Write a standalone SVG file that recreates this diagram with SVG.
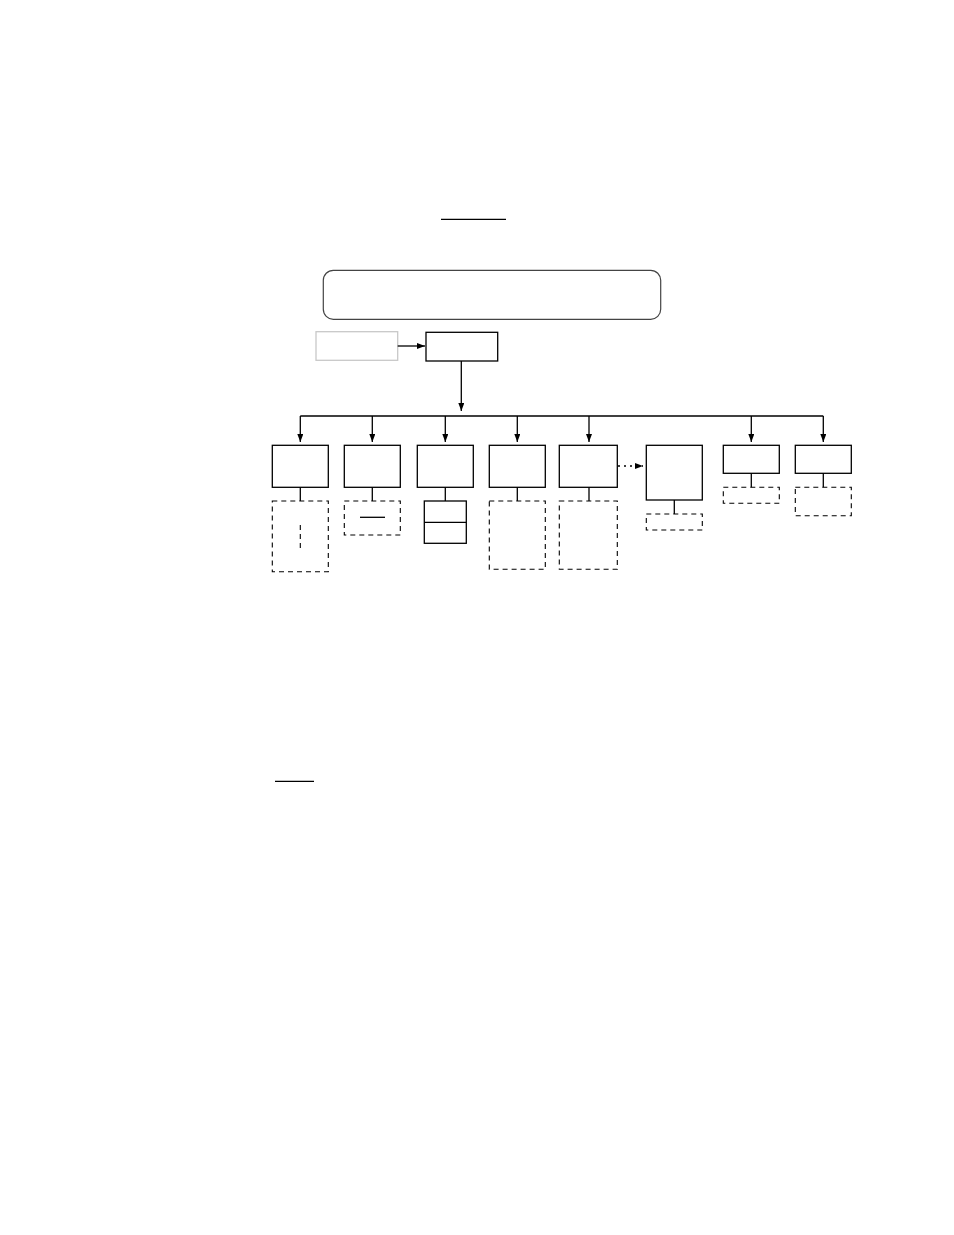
<svg xmlns="http://www.w3.org/2000/svg" width="954" height="1235" viewBox="0 0 954 1235">
<style>
.b{fill:none;stroke:#000;stroke-width:1.3}
.d{fill:none;stroke:#000;stroke-width:1.1;stroke-dasharray:5,4}
.c{fill:none;stroke:#000;stroke-width:1.3}
</style>
<defs>
<marker id="ah" markerWidth="8" markerHeight="6" refX="8" refY="3" orient="auto" markerUnits="userSpaceOnUse">
<path d="M0,0 L8,3 L0,6 Z" fill="#000"/>
</marker>
</defs>
<rect width="954" height="1235" fill="#fff"/>
<line x1="441" y1="219.3" x2="506" y2="219.3" class="c"/>
<line x1="275" y1="781.3" x2="314" y2="781.3" class="c"/>
<g id="banner"><rect x="323.3" y="270.3" width="337.4" height="49" rx="10" fill="none" stroke="#444" stroke-width="1.2"/></g>
<g id="source"><rect x="316" y="331.7" width="81.7" height="28.6" fill="none" stroke="#c8c8c8" stroke-width="1.3"/></g>
<g id="root"><rect x="426" y="332.3" width="71.7" height="28.7" class="b"/></g>
<g id="n1"><rect x="272.3" y="445.3" width="56" height="42" class="b"/>
<rect x="272.3" y="501" width="56" height="70.7" class="d"/>
<line x1="300.3" y1="525" x2="300.3" y2="550" class="d"/></g>
<g id="n2"><rect x="344.3" y="445.3" width="56" height="42" class="b"/>
<rect x="344.3" y="501" width="56" height="34" class="d"/>
<line x1="360" y1="517.3" x2="385" y2="517.3" class="c"/></g>
<g id="n3"><rect x="417.3" y="445.3" width="56" height="42" class="b"/>
<rect x="424.3" y="501" width="42" height="42.3" class="b"/>
<line x1="424.3" y1="522.3" x2="466.3" y2="522.3" class="c"/></g>
<g id="n4"><rect x="489.3" y="445.3" width="56" height="42" class="b"/>
<rect x="489.3" y="501" width="56" height="68.3" class="d"/></g>
<g id="n5"><rect x="559.3" y="445.3" width="58" height="42" class="b"/>
<rect x="559.3" y="501" width="58" height="68.3" class="d"/></g>
<g id="n6"><rect x="646.3" y="445.3" width="56" height="54.7" class="b"/>
<rect x="646.3" y="514" width="56" height="16" class="d"/></g>
<g id="n7"><rect x="723.3" y="445.3" width="56" height="28" class="b"/>
<rect x="723.3" y="487.3" width="56" height="16" class="d"/></g>
<g id="n8"><rect x="795.3" y="445.3" width="56" height="28" class="b"/>
<rect x="795.3" y="487.3" width="56" height="28.4" class="d"/></g>
<g id="connectors">
<line x1="397.7" y1="346" x2="425" y2="346" class="c" marker-end="url(#ah)"/>
<line x1="461.3" y1="361" x2="461.3" y2="411" class="c" marker-end="url(#ah)"/>
<line x1="300.3" y1="416" x2="823.3" y2="416" class="c"/>
<line x1="300.3" y1="416" x2="300.3" y2="442" class="c" marker-end="url(#ah)"/>
<line x1="372.3" y1="416" x2="372.3" y2="442" class="c" marker-end="url(#ah)"/>
<line x1="445.3" y1="416" x2="445.3" y2="442" class="c" marker-end="url(#ah)"/>
<line x1="517.3" y1="416" x2="517.3" y2="442" class="c" marker-end="url(#ah)"/>
<line x1="589" y1="416" x2="589" y2="442" class="c" marker-end="url(#ah)"/>
<line x1="751.3" y1="416" x2="751.3" y2="442" class="c" marker-end="url(#ah)"/>
<line x1="823.3" y1="416" x2="823.3" y2="442" class="c" marker-end="url(#ah)"/>
<line x1="300.3" y1="487.3" x2="300.3" y2="501" class="c"/>
<line x1="372.3" y1="487.3" x2="372.3" y2="501" class="c"/>
<line x1="445.3" y1="487.3" x2="445.3" y2="501" class="c"/>
<line x1="517.3" y1="487.3" x2="517.3" y2="501" class="c"/>
<line x1="589" y1="487.3" x2="589" y2="501" class="c"/>
<line x1="674.3" y1="500" x2="674.3" y2="514" class="c"/>
<line x1="751.3" y1="473.3" x2="751.3" y2="487.3" class="c"/>
<line x1="823.3" y1="473.3" x2="823.3" y2="487.3" class="c"/>
<line x1="618" y1="466" x2="643" y2="466" class="c" stroke-dasharray="2,4" marker-end="url(#ah)"/>
</g>
</svg>
